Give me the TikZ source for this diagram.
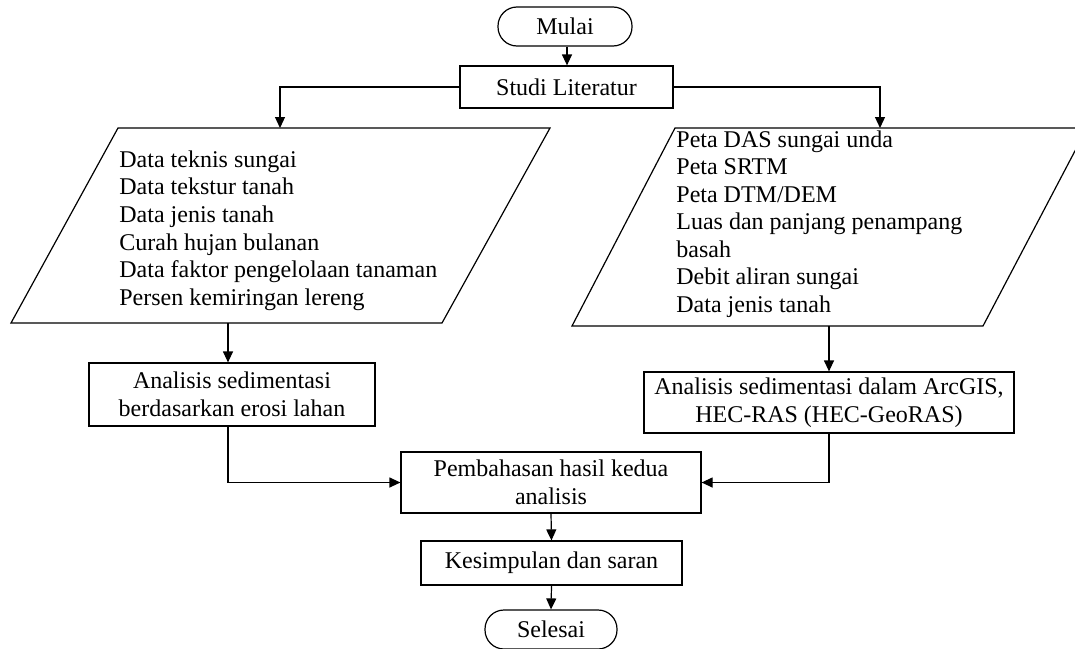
\documentclass[tikz,border=0pt]{standalone}
\usepackage{fontspec}
\setmainfont{Liberation Serif}
\usetikzlibrary{arrows.meta}
\begin{document}
\begin{tikzpicture}[x=0.5pt,y=-0.5pt,
  every node/.style={font=\fontsize{12}{13.8}\selectfont, inner sep=0pt},
  ln/.style={line width=0.6pt},
  arr/.style={ln, -{Triangle[length=5.5pt,width=5pt]}},
  term/.style={draw, ln, rectangle, rounded corners=9.5pt, minimum width=#1, minimum height=19.5pt},
  proc/.style={draw, ln, rectangle, align=center, minimum width=#1},
  txt/.style={align=left, anchor=west}]
\useasboundingbox (0,0) rectangle (1075,648);
\clip (0,0) rectangle (1075,648);

% terminals and processes
\node[term=67pt] (mulai) at (565,26.5) {Mulai};
\node[proc=106.5pt, minimum height=21pt] (studi) at (566.5,87) {Studi Literatur};
\node[proc=143pt, minimum height=31.5pt] (an1) at (232,394.5) {Analisis sedimentasi\\berdasarkan erosi lahan};
\node[proc=185pt, minimum height=30.5pt] (an2) at (829,402.5) {Analisis sedimentasi dalam ArcGIS,\\HEC-RAS (HEC-GeoRAS)};
\node[proc=150pt, minimum height=30.5pt] (pem) at (551,482.5) {Pembahasan hasil kedua\\analisis};
\node[proc=130.5pt, minimum height=22pt] (kes) at (551.5,563) {Kesimpulan dan saran};
\node[term=66pt] (sel) at (551,629.5) {Selesai};

% left parallelogram
\coordinate (lTL) at (118,128);
\coordinate (lTR) at (550,128);
\coordinate (lBR) at (442,323);
\coordinate (lBL) at (11,323);
\draw[ln] (lTL) -- (lTR) -- (lBR) -- (lBL) -- cycle;
\coordinate (lin) at (280,128);
\coordinate (lout) at (228,323);
\node[txt] (ltext) at (119,230.5) {Data teknis sungai\\Data tekstur tanah\\Data jenis tanah\\Curah hujan bulanan\\Data faktor pengelolaan tanaman\\Persen kemiringan lereng};

% right parallelogram
\coordinate (rTL) at (675,128);
\coordinate (rTR) at (1087,128);
\coordinate (rBR) at (983,326);
\coordinate (rBL) at (572,326);
\draw[ln] (rTL) -- (rTR) -- (rBR) -- (rBL) -- cycle;
\coordinate (rin) at (880,128);
\coordinate (rout) at (829,326);
\node[txt, font=\fontsize{12}{13.75}\selectfont] (rtext) at (676,224) {Peta DAS sungai unda\\Peta SRTM\\Peta DTM/DEM\\Luas dan panjang penampang\\basah\\Debit aliran sungai\\Data jenis tanah};

% connectors
\draw[arr] (mulai.south -| 567,0) -- (studi.north -| 567,0);
\draw[arr] (studi.west) -| (lin);
\draw[arr] (studi.east) -| (rin);
\draw[arr] (lout) -- (lout |- an1.north);
\draw[arr] (rout) -- (an2.north);
\draw[arr] (lout |- an1.south) |- (pem.west);
\draw[arr] (an2.south) |- (pem.east);
\draw[arr] (pem.south) -- (kes.north);
\draw[arr] (kes.south) -- (sel.north);
\end{tikzpicture}
\end{document}
